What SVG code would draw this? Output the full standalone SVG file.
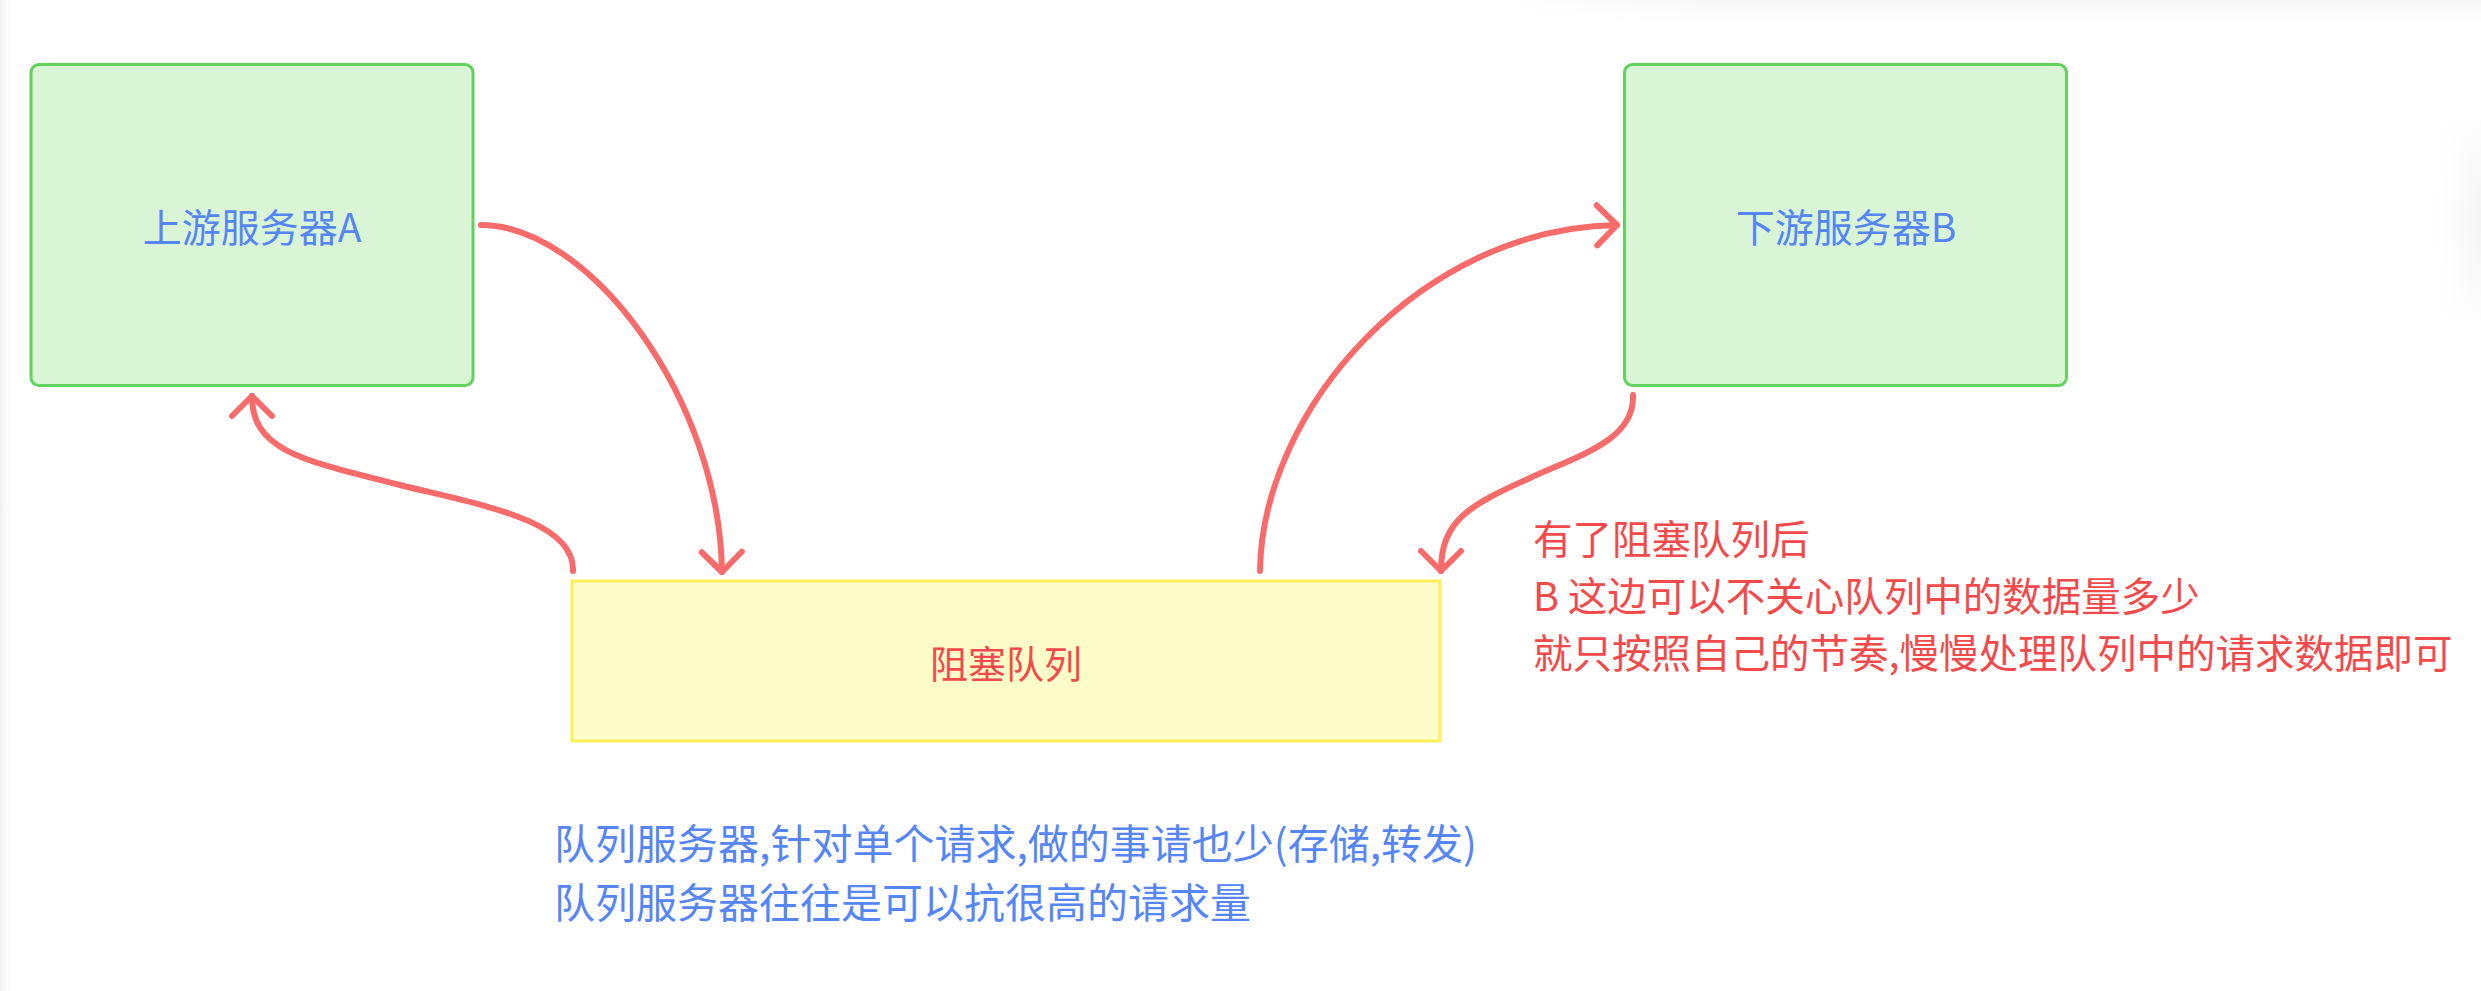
<svg xmlns="http://www.w3.org/2000/svg" width="2481" height="991" viewBox="0 0 2481 991">
  <defs>
    <style>
      .server { fill: #d9f5d5; stroke: #62d25c; stroke-width: 3; }
      .queue { fill: #fefdc9; stroke: #fdef58; stroke-width: 3; }
      .label { font-family: "Noto Sans CJK SC", "Noto Sans", sans-serif; }
      .blue { fill: #5686f5; }
      .red { fill: #f24a4a; }
      .conn { fill: none; stroke: #f76b6b; stroke-width: 6; stroke-linecap: round; stroke-linejoin: round; }
    </style>
    <marker id="ah" markerUnits="userSpaceOnUse" viewBox="-25 -25 30 50" refX="0" refY="0" markerWidth="30" markerHeight="50" orient="auto" overflow="visible">
      <path d="M-20,-20 L0,0 L-20,20" fill="none" stroke="#f76b6b" stroke-width="6" stroke-linecap="round" stroke-linejoin="round"/>
    </marker>
    <linearGradient id="leftShade" x1="0" y1="0" x2="1" y2="0">
      <stop offset="0" stop-color="#efefef"/>
      <stop offset="1" stop-color="#ffffff" stop-opacity="0"/>
    </linearGradient>
    <linearGradient id="topShade" x1="0" y1="0" x2="0" y2="1">
      <stop offset="0" stop-color="#f6f6f6"/>
      <stop offset="1" stop-color="#ffffff" stop-opacity="0"/>
    </linearGradient>
    <linearGradient id="topFade" x1="0" y1="0" x2="1" y2="0">
      <stop offset="0" stop-color="#ffffff" stop-opacity="0"/>
      <stop offset="0.2" stop-color="#ffffff" stop-opacity="1"/>
      <stop offset="1" stop-color="#ffffff" stop-opacity="1"/>
    </linearGradient>
    <mask id="topMask">
      <rect x="1500" y="0" width="981" height="30" fill="url(#topFade)"/>
    </mask>
    <radialGradient id="rightShade" cx="1" cy="0.5" r="1">
      <stop offset="0" stop-color="#f4f4f4"/>
      <stop offset="1" stop-color="#ffffff" stop-opacity="0"/>
    </radialGradient>
  </defs>

  <rect x="0" y="0" width="2481" height="991" fill="#ffffff"/>
  <rect x="0" y="0" width="14" height="991" fill="url(#leftShade)"/>
  <rect x="1500" y="0" width="981" height="30" fill="url(#topShade)" mask="url(#topMask)"/>
  <rect x="2420" y="120" width="61" height="200" fill="url(#rightShade)"/>

  <g id="server-a">
    <rect class="server" x="31" y="64.5" width="442" height="321" rx="8"/>
    <text class="label blue" x="252" y="242" font-size="39" text-anchor="middle">上游服务器A</text>
  </g>

  <g id="server-b">
    <rect class="server" x="1624.5" y="64.5" width="442" height="321" rx="8"/>
    <text class="label blue" x="1846" y="242" font-size="39" text-anchor="middle">下游服务器B</text>
  </g>

  <g id="blocking-queue">
    <rect class="queue" x="572" y="581" width="868" height="160"/>
    <text class="label red" x="1006" y="678" font-size="38" text-anchor="middle">阻塞队列</text>
  </g>

  <g id="connectors">
    <path class="conn" d="M481,225 C590,225 720,400 722,572" marker-end="url(#ah)"/>
    <path class="conn" d="M573,571 C575,520 480,505 400,485 C300,460 252,450 252,396" marker-end="url(#ah)"/>
    <path class="conn" d="M1260,571 C1262,410 1420,228 1617,225" marker-end="url(#ah)"/>
    <path class="conn" d="M1633,395 C1635,440 1580,455 1530,478 C1470,505 1441,520 1441,571" marker-end="url(#ah)"/>
  </g>

  <g id="note-b">
    <text class="label red" font-size="39.5">
      <tspan x="1533" y="554">有了阻塞队列后</tspan>
      <tspan x="1533" y="611">B 这边可以不关心队列中的数据量多少</tspan>
      <tspan x="1533" y="668">就只按照自己的节奏,慢慢处理队列中的请求数据即可</tspan>
    </text>
  </g>

  <g id="note-queue">
    <text class="label blue" font-size="41">
      <tspan x="554" y="859">队列服务器,针对单个请求,做的事请也少(存储,转发)</tspan>
      <tspan x="554" y="918">队列服务器往往是可以抗很高的请求量</tspan>
    </text>
  </g>
</svg>
